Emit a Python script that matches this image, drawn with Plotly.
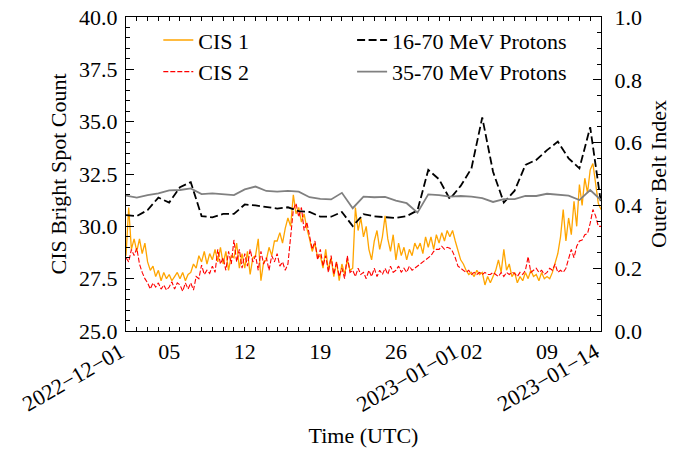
import pandas as pd
import plotly.graph_objects as go

# ---- data ----
# CIS 1 / CIS 2 bright spot counts, every 6 hours from 2022-12-01 00:00
cis1 = [
    28.6, 30.9, 28.9, 29.4,  28.8, 29.4, 28.7, 29.2,  28.3, 27.9, 28.1, 27.6,
    27.9, 27.4, 27.8, 27.5,  27.7, 27.4, 27.6, 27.8,  27.5, 27.8, 27.4, 27.7,
    27.8, 28.2, 28.0, 28.6,  28.3, 28.8, 28.2, 28.7,  28.4, 28.9, 28.3, 29.0,
    28.2, 28.8, 27.9, 28.6,  28.5, 29.2, 28.0, 28.7,  28.0, 28.8, 27.7, 28.5,
    28.6, 29.4, 27.4, 28.3,  28.4, 29.0, 28.6, 29.3,  29.3, 29.7, 29.2, 29.9,
    30.4, 30.0, 31.5, 30.6,  30.9, 30.2, 30.6, 29.9,  29.4, 28.8, 29.2, 28.5,
    28.6, 28.0, 28.9, 27.9,  28.5, 27.6, 28.3, 27.4,  28.2, 27.7, 28.4, 27.9,
    28.0, 30.9, 29.8, 30.4,  29.5, 30.0, 28.9, 28.4,  29.3, 29.8, 28.9, 29.5,
    30.5, 29.4, 28.8, 29.6,  28.4, 29.2, 28.6, 29.0,  28.4, 28.9, 28.6, 29.2,
    28.9, 29.2, 28.7, 29.5,  29.0, 29.5, 28.9, 29.6,  29.2, 29.7, 29.3, 29.8,
    29.5, 29.8, 29.3, 28.9,  28.4, 28.2, 27.9, 27.7,  27.8, 27.6, 27.9, 27.7,
    27.8, 27.2, 27.6, 27.3,  27.6, 27.9, 28.4, 27.8,  28.9, 27.9, 28.2, 27.6,
    27.8, 27.3, 27.6, 27.4,  27.8, 27.5, 27.9, 27.6,  27.7, 27.4, 27.8, 27.5,
    27.6, 27.5, 27.8, 28.2,  28.7, 29.5, 30.8, 29.3,  30.4, 29.6, 31.2, 30.0,
    32.0, 31.0, 32.3, 31.6,  32.7, 33.0, 31.9, 31.1,  30.8,
]
cis2 = [
    28.5, 28.3, 28.9, 28.6,  28.95, 28.2, 27.8, 27.5,  27.3, 27.0, 27.3, 27.1,
    27.3, 27.0, 27.2, 26.95,  27.1, 27.35, 27.0, 27.3,  27.2, 26.9, 27.3, 27.0,
    27.3, 26.95, 27.6, 27.5,  28.15, 27.7, 27.9, 27.75,  28.1, 27.8, 28.9, 28.2,
    28.5, 27.9, 28.8, 28.2,  29.35, 28.3, 28.9, 28.0,  28.7, 28.1, 28.9, 28.3,
    28.6, 27.9, 28.8, 28.2,  28.5, 27.9, 28.6, 28.3,  28.7, 28.1, 28.3, 27.9,
    28.2, 29.5, 30.8, 31.1,  30.45, 30.9, 29.8, 30.2,  29.5, 28.9, 29.3, 28.4,
    28.9, 28.1, 28.6, 27.8,  28.6, 27.7, 28.3, 27.6,  28.0, 27.5, 28.6, 27.8,
    27.9, 27.6, 28.0, 27.7,  27.8, 27.5, 27.9, 27.6,  28.0, 27.6, 27.9, 27.7,
    28.0, 27.7, 28.1, 27.8,  27.9, 28.1, 27.8, 28.0,  27.8, 28.1, 27.9, 28.0,
    28.1, 28.2, 28.3, 28.4,  28.5, 28.6, 28.8, 28.9,  28.9, 29.05, 28.9, 29.0,
    28.95, 28.8, 28.5, 28.1,  28.0, 27.9, 27.8, 27.9,  27.7, 27.8, 27.7, 27.8,
    27.7, 27.8, 27.7, 27.7,  27.8, 27.7, 27.6, 27.8,  27.6, 27.8, 27.7, 27.8,
    27.75, 27.6, 27.8, 27.7,  27.9, 28.55, 27.8, 27.9,  28.0, 27.8, 27.9, 27.7,
    27.8, 28.0, 27.9, 28.2,  27.8, 27.9, 27.8, 28.0,  28.4, 28.9, 28.5, 29.05,
    29.3, 29.35, 29.6, 29.65,  30.15, 30.8, 30.5, 30.0,  30.0,
]
# Outer belt index, daily from 2022-12-01
p16 = [
    0.369, 0.366, 0.385, 0.425, 0.409, 0.458, 0.474, 0.366, 0.362, 0.373,
    0.373, 0.403, 0.400, 0.394, 0.390, 0.394, 0.382, 0.379, 0.364, 0.364,
    0.379, 0.334, 0.372, 0.365, 0.362, 0.360, 0.366, 0.384, 0.513, 0.483,
    0.420, 0.462, 0.518, 0.680, 0.507, 0.409, 0.447, 0.529, 0.545, 0.576,
    0.603, 0.550, 0.518, 0.649, 0.407,
]
p35 = [
    0.431, 0.425, 0.433, 0.438, 0.448, 0.449, 0.454, 0.436, 0.438, 0.436,
    0.433, 0.451, 0.460, 0.446, 0.444, 0.446, 0.444, 0.426, 0.421, 0.419,
    0.440, 0.391, 0.428, 0.426, 0.427, 0.415, 0.407, 0.377, 0.435, 0.433,
    0.428, 0.430, 0.428, 0.423, 0.411, 0.420, 0.420, 0.430, 0.430, 0.437,
    0.433, 0.431, 0.417, 0.449, 0.417,
]
cis_times = pd.date_range("2022-12-01", periods=len(cis1), freq="6h")
day_times = pd.date_range("2022-12-01", periods=len(p16), freq="D")

week_ticks = ["2022-12-05", "2022-12-12", "2022-12-19", "2022-12-26", "2023-01-02", "2023-01-09"]
week_labels = ["05", "12", "19", "26", "02", "09"]
edge_ticks = ["2022-12-01", "2023-01-01", "2023-01-14"]
edge_labels = ["2022\u221212\u221201", "2023\u221201\u221201", "2023\u221201\u221214"]

FONT = "Liberation Serif"
FS = 22

fig = go.Figure()
fig.add_trace(go.Scatter(x=cis_times, y=cis1, mode="lines", name="CIS 1", legend="legend",
                         line=dict(color="orange", width=1.3)))
fig.add_trace(go.Scatter(x=cis_times, y=cis2, mode="lines", name="CIS 2", legend="legend",
                         line=dict(color="red", width=1.1, dash="5px,2px")))
fig.add_trace(go.Scatter(x=day_times, y=p16, yaxis="y2", mode="lines", name="16-70 MeV Protons",
                         legend="legend2", line=dict(color="black", width=1.8, dash="8px,3.5px")))
fig.add_trace(go.Scatter(x=day_times, y=p35, yaxis="y2", mode="lines", name="35-70 MeV Protons",
                         legend="legend2", line=dict(color="grey", width=1.8)))

common = dict(showline=True, linecolor="black", linewidth=1.2, ticks="inside", tickcolor="black",
              tickwidth=1, showgrid=False, zeroline=False, ticklabeloverflow="allow",
              tickfont=dict(family=FONT, size=FS, color="black"))

annotations = []
for t, lab in zip(edge_ticks, edge_labels):
    annotations.append(dict(x=t, y=0, xref="x", yref="paper", text=lab, showarrow=False,
                            textangle=-30, xanchor="right", yanchor="top", yshift=-5, xshift=5,
                            font=dict(family=FONT, size=FS, color="black")))

legend_style = dict(orientation="v", xanchor="left", yanchor="top", bgcolor="rgba(0,0,0,0)",
                    borderwidth=0, tracegroupgap=0,
                    font=dict(family=FONT, size=FS, color="black"))

fig.update_layout(
    width=677, height=451,
    margin=dict(l=126, r=76, t=17, b=120, autoexpand=False),
    paper_bgcolor="white", plot_bgcolor="white",
    font=dict(family=FONT, size=FS, color="black"),
    xaxis=dict(type="date", range=["2022-12-01", "2023-01-14"], tickvals=week_ticks, ticktext=week_labels,
               ticklen=4, mirror="ticks", ticklabelstandoff=0,
               minor=dict(dtick=86400000, tick0="2022-12-01", ticks="inside", ticklen=4, tickcolor="black"),
               title=dict(text="Time (UTC)", standoff=65, font=dict(family=FONT, size=FS)),
               automargin=False, **common),
    xaxis2=dict(type="date", overlaying="x", anchor="y", matches="x", tickvals=edge_ticks, ticks="inside",
                ticklen=8, tickcolor="black", mirror="ticks", showticklabels=False, showline=False,
                showgrid=False, zeroline=False),
    yaxis=dict(range=[25, 40], tick0=25, dtick=2.5, tickformat=".1f", ticklen=8, ticklabelstandoff=3,
               minor=dict(dtick=0.5, ticks="inside", ticklen=4, tickcolor="black"),
               title=dict(text="CIS Bright Spot Count", standoff=6, font=dict(family=FONT, size=FS)),
               automargin=False, **common),
    yaxis2=dict(overlaying="y", side="right", range=[0, 1], tick0=0, dtick=0.2, tickformat=".1f",
                ticklen=8, ticklabelstandoff=8,
                minor=dict(dtick=0.05, ticks="inside", ticklen=4, tickcolor="black"),
                title=dict(text="Outer Belt Index", standoff=9, font=dict(family=FONT, size=FS)),
                automargin=False, **common),
    legend=dict(x=0.068, y=0.993, **legend_style),
    legend2=dict(x=0.476, y=0.993, **legend_style),
    annotations=annotations,
    showlegend=True,
)

fig.write_html("out.html", config={"displayModeBar": False},
               post_script="document.body.style.margin='0';")
